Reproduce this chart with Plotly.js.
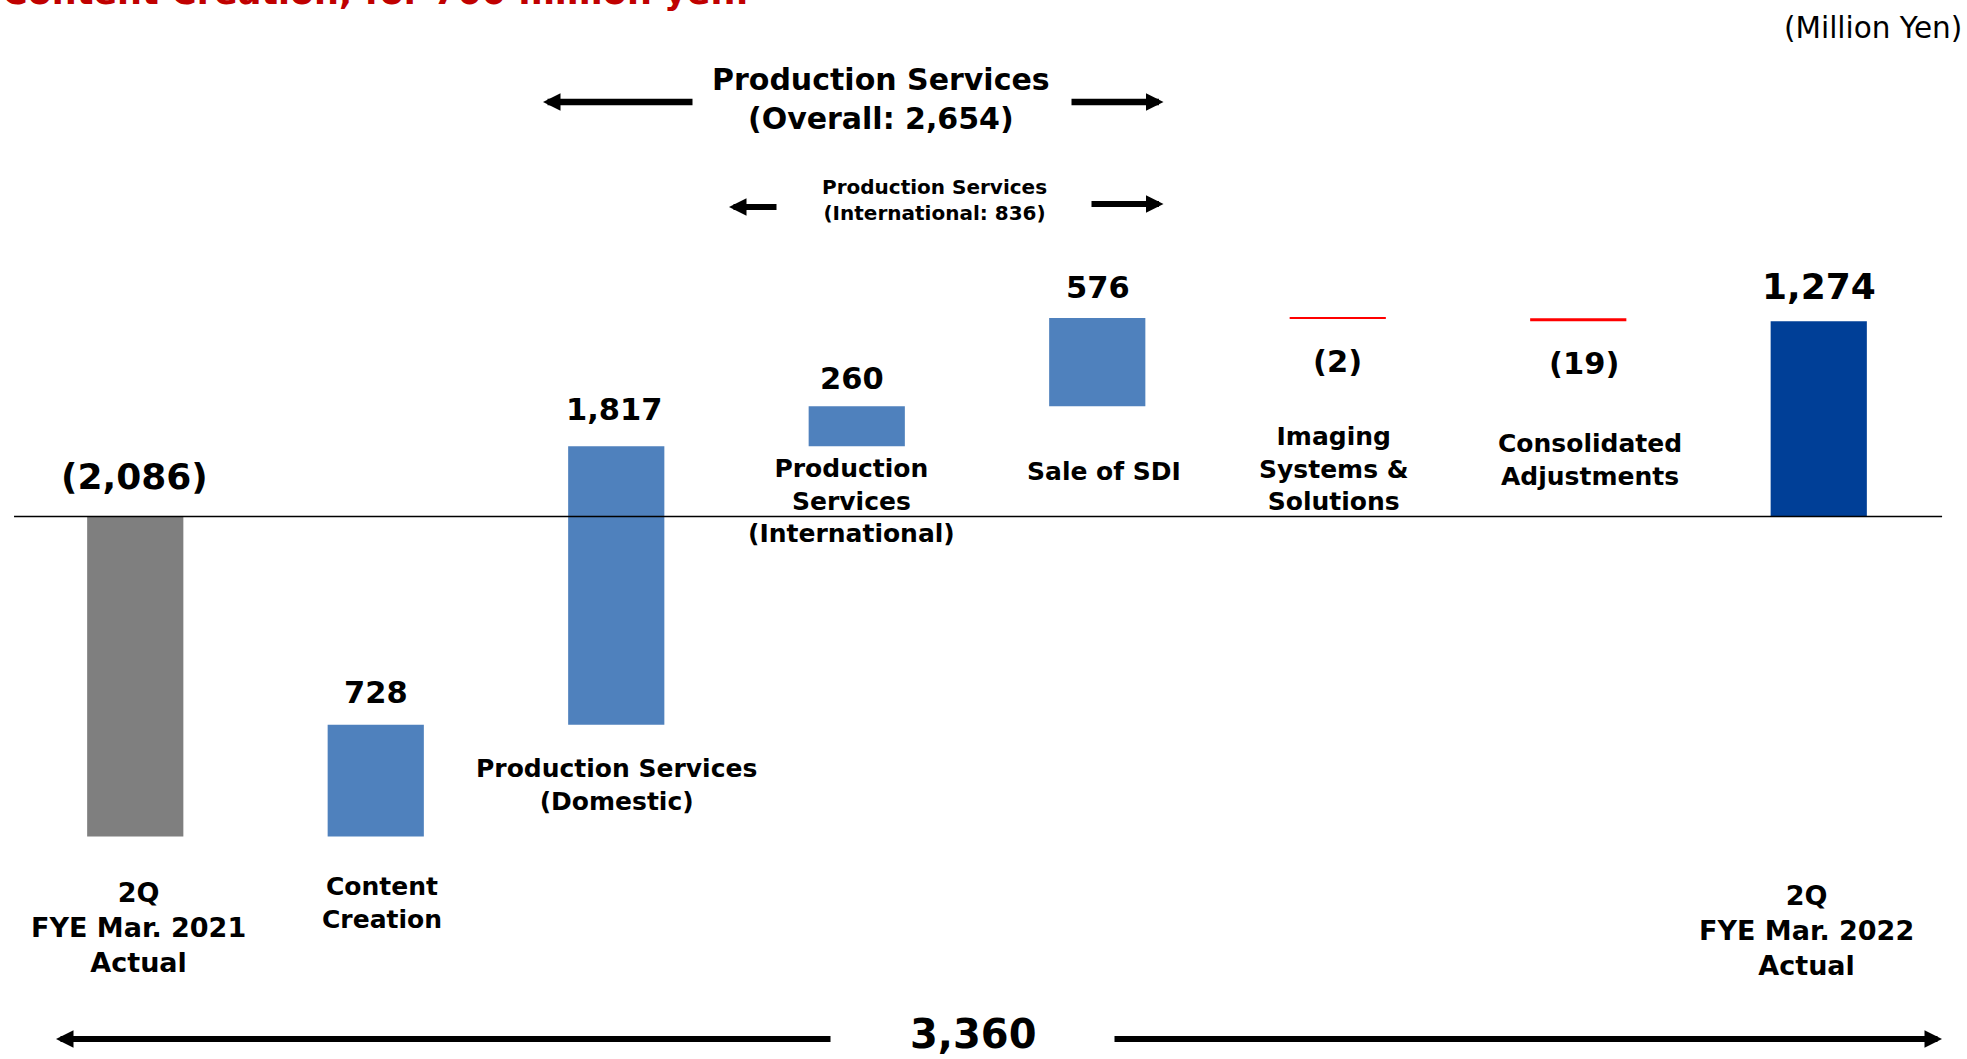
<!DOCTYPE html>
<html>
<head>
<meta charset="utf-8">
<script src="https://cdn.plot.ly/plotly-3.0.1.min.js"></script>
<style>
  html, body { margin: 0; padding: 0; background: #ffffff; }
  #chart { width: 1967px; height: 1059px; }
</style>
</head>
<body>
<div id="chart"></div>
<script>
// Operating income bridge: 2Q FYE Mar. 2021 -> 2Q FYE Mar. 2022 (million yen)
const categories = [
  '2Q<br>FYE Mar. 2021<br>Actual',
  'Content<br>Creation',
  'Production Services<br>(Domestic)',
  'Production<br>Services<br>(International)',
  'Sale of SDI',
  'Imaging<br>Systems &<br>Solutions',
  'Consolidated<br>Adjustments',
  '2Q<br>FYE Mar. 2022<br>Actual'
];
const measures = ['absolute', 'relative', 'relative', 'relative', 'relative', 'relative', 'relative', 'total'];
const values = [-2086, 728, 1817, 260, 576, -2, -19, 1274];

// Bracketed sub-totals shown above the bars
const bracketLabels = [
  'Production Services<br>(Overall: 2,654)',
  'Production Services<br>(International: 836)'
];
const unitLabel = '(Million Yen)';
const headline = 'Content Creation, for 700 million yen.';

// ---- styling ----
const W = 1967, H = 1059;
const M = { l: 15, r: 28, t: 0, b: 0 };
const FONT = 'DejaVu Sans';
const COLORS = {
  start: '#7f7f7f',
  up: '#4f81bd',
  down: '#ff0000',
  total: '#003f97',
  text: '#000000',
  headline: '#c00000'
};

const plotW = W - M.l - M.r, plotH = H - M.t - M.b;
const px2x = p => (p - M.l) / plotW;      // page pixel -> paper x
const px2y = p => 1 - (p - M.t) / plotH;  // page pixel -> paper y

// ---- bar geometry from the measures ----
const base = [], height = [], barColors = [];
let running = 0;
values.forEach((v, i) => {
  const m = measures[i];
  if (m === 'absolute') {
    base.push(0); height.push(v); running = v; barColors.push(COLORS.start);
  } else if (m === 'relative') {
    base.push(running); height.push(v); running += v;
    barColors.push(v >= 0 ? COLORS.up : COLORS.down);
  } else {
    base.push(0); height.push(v); barColors.push(COLORS.total);
  }
});
const xIdx = categories.map((_, i) => i);

const fmt = v => {
  const s = Math.abs(v).toLocaleString('en-US');
  return v < 0 ? '(' + s + ')' : s;
};

const bars = {
  type: 'bar',
  x: xIdx,
  y: height,
  base: base,
  width: 0.4,
  marker: { color: barColors, line: { width: 0 } },
  hoverinfo: 'skip',
  showlegend: false
};

const annotations = [];

// value labels: small per-label nudges in pixels (dx right, dy down)
const valueLabelNudge = [
  { dx: -1, dy: -2.5 }, { dx: 0, dy: 0 }, { dx: -2, dy: -4 }, { dx: -5, dy: 5 },
  { dx: 1, dy: 2.5 }, { dx: 0, dy: 1.2 }, { dx: 6, dy: 0 }, { dx: 0, dy: 3.8 }
];
values.forEach((v, i) => {
  const lo = Math.min(base[i], base[i] + height[i]);
  const hi = Math.max(base[i], base[i] + height[i]);
  const big = measures[i] !== 'relative';
  const below = measures[i] === 'relative' && v < 0;
  const n = valueLabelNudge[i];
  annotations.push({
    xref: 'x', yref: 'y', x: i, y: below ? lo : hi,
    xshift: n.dx,
    yshift: (below ? -42 : (big ? 38 : 32.5)) - n.dy,
    xanchor: 'center', yanchor: 'middle',
    text: fmt(v), showarrow: false,
    font: { family: FONT, size: big ? 36 : 30.5, weight: 'bold', color: COLORS.text }
  });
});

// category labels, placed freely around the bars
const catLabelPlace = [
  { dx: 3, py: 927, size: 27 },
  { dx: 6, py: 903, size: 25 },
  { dx: 0, py: 785, size: 25 },
  { dx: -5, py: 501, size: 25 },
  { dx: 7, py: 472, size: 25 },
  { dx: -4, py: 469, size: 25 },
  { dx: 12, py: 460, size: 25 },
  { dx: -12, py: 930, size: 27 }
];
categories.forEach((c, i) => {
  const p = catLabelPlace[i];
  annotations.push({
    xref: 'x', yref: 'paper', x: i, xshift: p.dx, y: px2y(p.py),
    xanchor: 'center', yanchor: 'middle', align: 'center',
    text: c, showarrow: false,
    font: { family: FONT, size: p.size, weight: 'bold', color: COLORS.text }
  });
});

// total of all changes between the two periods
const changeTotal = values.reduce((s, v, i) => s + (measures[i] === 'relative' ? v : 0), 0);

// free text
annotations.push(
  { xref: 'paper', yref: 'paper', x: px2x(881), y: px2y(99), xanchor: 'center', yanchor: 'middle',
    text: bracketLabels[0], showarrow: false, align: 'center',
    font: { family: FONT, size: 30, weight: 'bold', color: COLORS.text } },
  { xref: 'paper', yref: 'paper', x: px2x(934), y: px2y(200), xanchor: 'center', yanchor: 'middle',
    text: bracketLabels[1], showarrow: false, align: 'center',
    font: { family: FONT, size: 20, weight: 'bold', color: COLORS.text } },
  { xref: 'paper', yref: 'paper', x: px2x(973), y: px2y(1033.5), xanchor: 'center', yanchor: 'middle',
    text: fmt(changeTotal), showarrow: false,
    font: { family: FONT, size: 40, weight: 'bold', color: COLORS.text } },
  { xref: 'paper', yref: 'paper', x: px2x(1964), y: px2y(27.6), xanchor: 'right', yanchor: 'middle',
    text: unitLabel, showarrow: false,
    font: { family: FONT, size: 29.5, color: COLORS.text } },
  { xref: 'paper', yref: 'paper', x: px2x(0), y: 1, yshift: -14, xanchor: 'left', yanchor: 'bottom',
    text: headline, showarrow: false,
    font: { family: FONT, size: 35, weight: 'bold', color: COLORS.headline } }
);

// arrows: [tipX, tipY, tailX, tailY, width]
const arrows = [
  [543, 102, 694, 102, 6.5],
  [1163.5, 102, 1070, 102, 6.5],
  [729, 207, 778, 207, 6],
  [1163.5, 204, 1090, 204, 6],
  [56, 1039, 832, 1039, 6],
  [1942, 1039, 1113, 1039, 6]
];
arrows.forEach(a => {
  annotations.push({
    xref: 'paper', yref: 'paper', x: px2x(a[0]), y: px2y(a[1]),
    ax: a[2] - a[0], ay: a[3] - a[1], axref: 'pixel', ayref: 'pixel',
    text: '', showarrow: true, arrowhead: 2, arrowwidth: a[4],
    arrowsize: 17.5 / (5 * a[4]), arrowcolor: '#000000', standoff: 0
  });
});

const layout = {
  width: W, height: H,
  margin: M,
  paper_bgcolor: '#ffffff', plot_bgcolor: '#ffffff',
  showlegend: false,
  hovermode: false,
  bargap: 0.6,
  xaxis: { range: [-0.5, 7.5], visible: false, fixedrange: true },
  yaxis: { range: [-3537, 3368], visible: false, fixedrange: true },
  shapes: [
    { type: 'line', xref: 'paper', yref: 'y', x0: -0.0005, x1: 1.0016, y0: 0, y1: 0,
      line: { color: '#000000', width: 1.4 }, layer: 'above' }
  ],
  annotations: annotations
};

Plotly.newPlot('chart', [bars], layout, { displayModeBar: false, responsive: false });
</script>
</body>
</html>
